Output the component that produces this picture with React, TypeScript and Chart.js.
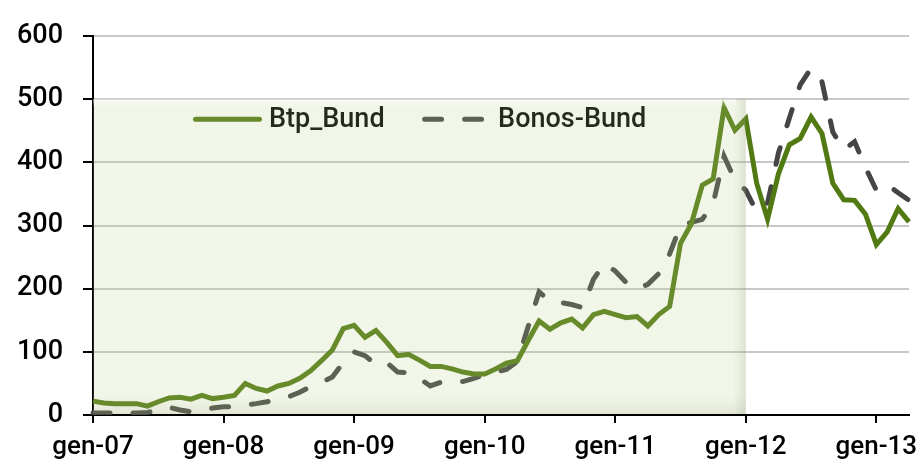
import React, { useEffect, useRef } from "react";
import { Chart, registerables } from "chart.js";

Chart.register(...registerables);

const monthNames = ["gen", "feb", "mar", "apr", "mag", "giu", "lug", "ago", "set", "ott", "nov", "dic"];
const yearSuffixes = ["07", "08", "09", "10", "11", "12", "13"];
const monthCount = 76; // gen-07 .. apr-13

const categories: string[] = [];
for (let i = 0; i < monthCount; i++) {
  categories.push(monthNames[i % 12] + "-" + yearSuffixes[Math.floor(i / 12)]);
}

const btpBund = [
  22, 19, 18, 18, 18, 14, 21, 27, 28, 25, 31, 26,
  28, 31, 50, 42, 38, 46, 50, 58, 70, 86, 103, 137,
  142, 123, 134, 115, 94, 96, 87, 77, 77, 73, 68, 65,
  65, 73, 82, 86, 118, 149, 136, 146, 152, 138, 159, 164,
  159, 154, 156, 141, 159, 172, 272, 303, 364, 374, 487, 451,
  469, 367, 310, 382, 428, 438, 472, 446, 367, 341, 340, 318,
  270, 290, 327, 306,
];

const bonosBund = [
  3, 3, 3, 3, 3, 4, 8, 12, 8, 5, 8, 11,
  13, 13, 16, 18, 21, 25, 29, 36, 45, 52, 60, 83,
  100, 94, 80, 83, 68, 67, 58, 46, 52, 55, 53, 58,
  64, 68, 72, 85, 140, 195, 180, 178, 175, 170, 215, 240,
  228, 210, 200, 207, 224, 255, 300, 305, 310, 335, 410, 372,
  356, 322, 336, 415, 470, 523, 549, 528, 448, 420, 433, 392,
  356, 365, 352, 340,
];

const seriesNames = ["Btp_Bund", "Bonos-Bund"];
const yMin = 0;
const yMax = 600;
const yStep = 100;
const shadedUntil = "gen-12";
const shadedTop = 500;

const FONT = "Roboto, 'DejaVu Sans', sans-serif";

const overlayPlugin = {
  id: "legendAndOverlay",
  afterDatasetsDraw(chart: any) {
    const { ctx, chartArea, scales } = chart;
    const x = scales.x;
    const y = scales.y;

    // Legend (drawn under the shaded overlay, like the reference)
    ctx.save();
    const ly = chartArea.top + 83;
    let cx = chartArea.left + 102.5;
    const lineLen = 64;
    const textGap = 9.5;
    const itemGap = 40;
    ctx.font = "500 27px " + FONT;
    ctx.textBaseline = "middle";
    ctx.textAlign = "left";
    chart.data.datasets.forEach((ds: any) => {
      ctx.beginPath();
      ctx.setLineDash(ds.borderDash || []);
      ctx.lineCap = "round";
      ctx.lineWidth = ds.borderWidth;
      ctx.strokeStyle = ds.borderColor;
      ctx.moveTo(cx, ly);
      ctx.lineTo(cx + lineLen, ly);
      ctx.stroke();
      ctx.setLineDash([]);
      ctx.fillStyle = "#000000";
      const tx = cx + lineLen + textGap;
      ctx.fillText(ds.label, tx, ly + 1);
      cx = tx + ctx.measureText(ds.label).width + itemGap;
    });
    ctx.restore();

    // Shaded translucent panel
    const idx = categories.indexOf(shadedUntil);
    const xL = x.getPixelForValue(0);
    const xR = x.getPixelForValue(idx);
    const yT = y.getPixelForValue(shadedTop);
    const yB = y.getPixelForValue(0) - 1;
    ctx.save();
    ctx.fillStyle = "rgba(190,210,140,0.2)";
    ctx.fillRect(xL, yT, xR - xL, yB - yT);
    // right edge shadow
    const gR = ctx.createLinearGradient(xR - 12, 0, xR, 0);
    gR.addColorStop(0, "rgba(110,120,90,0)");
    gR.addColorStop(1, "rgba(110,120,90,0.16)");
    ctx.fillStyle = gR;
    ctx.fillRect(xR - 12, yT, 12, yB - yT);
    // bottom shadow
    const gB = ctx.createLinearGradient(0, yB - 18, 0, yB);
    gB.addColorStop(0, "rgba(110,120,90,0)");
    gB.addColorStop(1, "rgba(110,120,90,0.12)");
    ctx.fillStyle = gB;
    ctx.fillRect(xL, yB - 18, xR - xL, 18);
    // top highlight
    const gT = ctx.createLinearGradient(0, yT, 0, yT + 8);
    gT.addColorStop(0, "rgba(255,255,255,0.5)");
    gT.addColorStop(1, "rgba(255,255,255,0)");
    ctx.fillStyle = gT;
    ctx.fillRect(xL, yT, xR - xL - 10, 8);
    ctx.restore();
  },
};

export default function App() {
  const canvasRef = useRef<HTMLCanvasElement | null>(null);

  useEffect(() => {
    document.body.style.margin = "0";
    const canvas = canvasRef.current;
    if (!canvas) return;
    const chart = new Chart(canvas, {
      type: "line",
      data: {
        labels: categories,
        datasets: [
          {
            label: seriesNames[0],
            data: btpBund,
            borderColor: "#527a12",
            borderWidth: 5,
            pointRadius: 0,
            fill: false,
            tension: 0,
          },
          {
            label: seriesNames[1],
            data: bonosBund,
            borderColor: "#454545",
            borderWidth: 5,
            borderDash: [17, 23],
            borderCapStyle: "round",
            pointRadius: 0,
            fill: false,
            tension: 0,
          },
        ],
      },
      options: {
        responsive: false,
        animation: false,
        layout: { padding: { left: 0, right: 9, top: 25, bottom: 0 } },
        plugins: {
          legend: { display: false },
          tooltip: { enabled: false },
        },
        scales: {
          x: {
            grid: {
              drawOnChartArea: false,
              drawTicks: true,
              tickLength: 8,
              tickColor: "#000000",
              lineWidth: 2,
            },
            border: { color: "#000000", width: 2 },
            ticks: {
              autoSkip: false,
              maxRotation: 0,
              minRotation: 0,
              padding: 9,
              color: "#000000",
              font: { family: FONT, size: 26, weight: "500" },
              callback: (_v: any, i: number) => {
                const l = categories[i];
                return l.startsWith("gen") ? l : null;
              },
            },
            afterFit: (s: any) => {
              s.height = 48;
              s.paddingRight = 0;
              s.paddingLeft = 0;
            },
          },
          y: {
            min: yMin,
            max: yMax,
            ticks: {
              stepSize: yStep,
              padding: 20,
              color: "#000000",
              font: { family: FONT, size: 27, weight: "500" },
            },
            grid: {
              color: "#c8c8c8",
              lineWidth: 2,
              tickColor: "#000000",
              tickLength: 10,
            },
            border: { color: "#000000", width: 2 },
            afterFit: (s: any) => {
              s.width = 93;
            },
          },
        },
      },
      plugins: [overlayPlugin],
    } as any);
    return () => chart.destroy();
  }, []);

  return (
    <div style={{ width: 918, height: 463 }}>
      <canvas ref={canvasRef} width={918} height={463} style={{ display: "block" }} />
    </div>
  );
}
